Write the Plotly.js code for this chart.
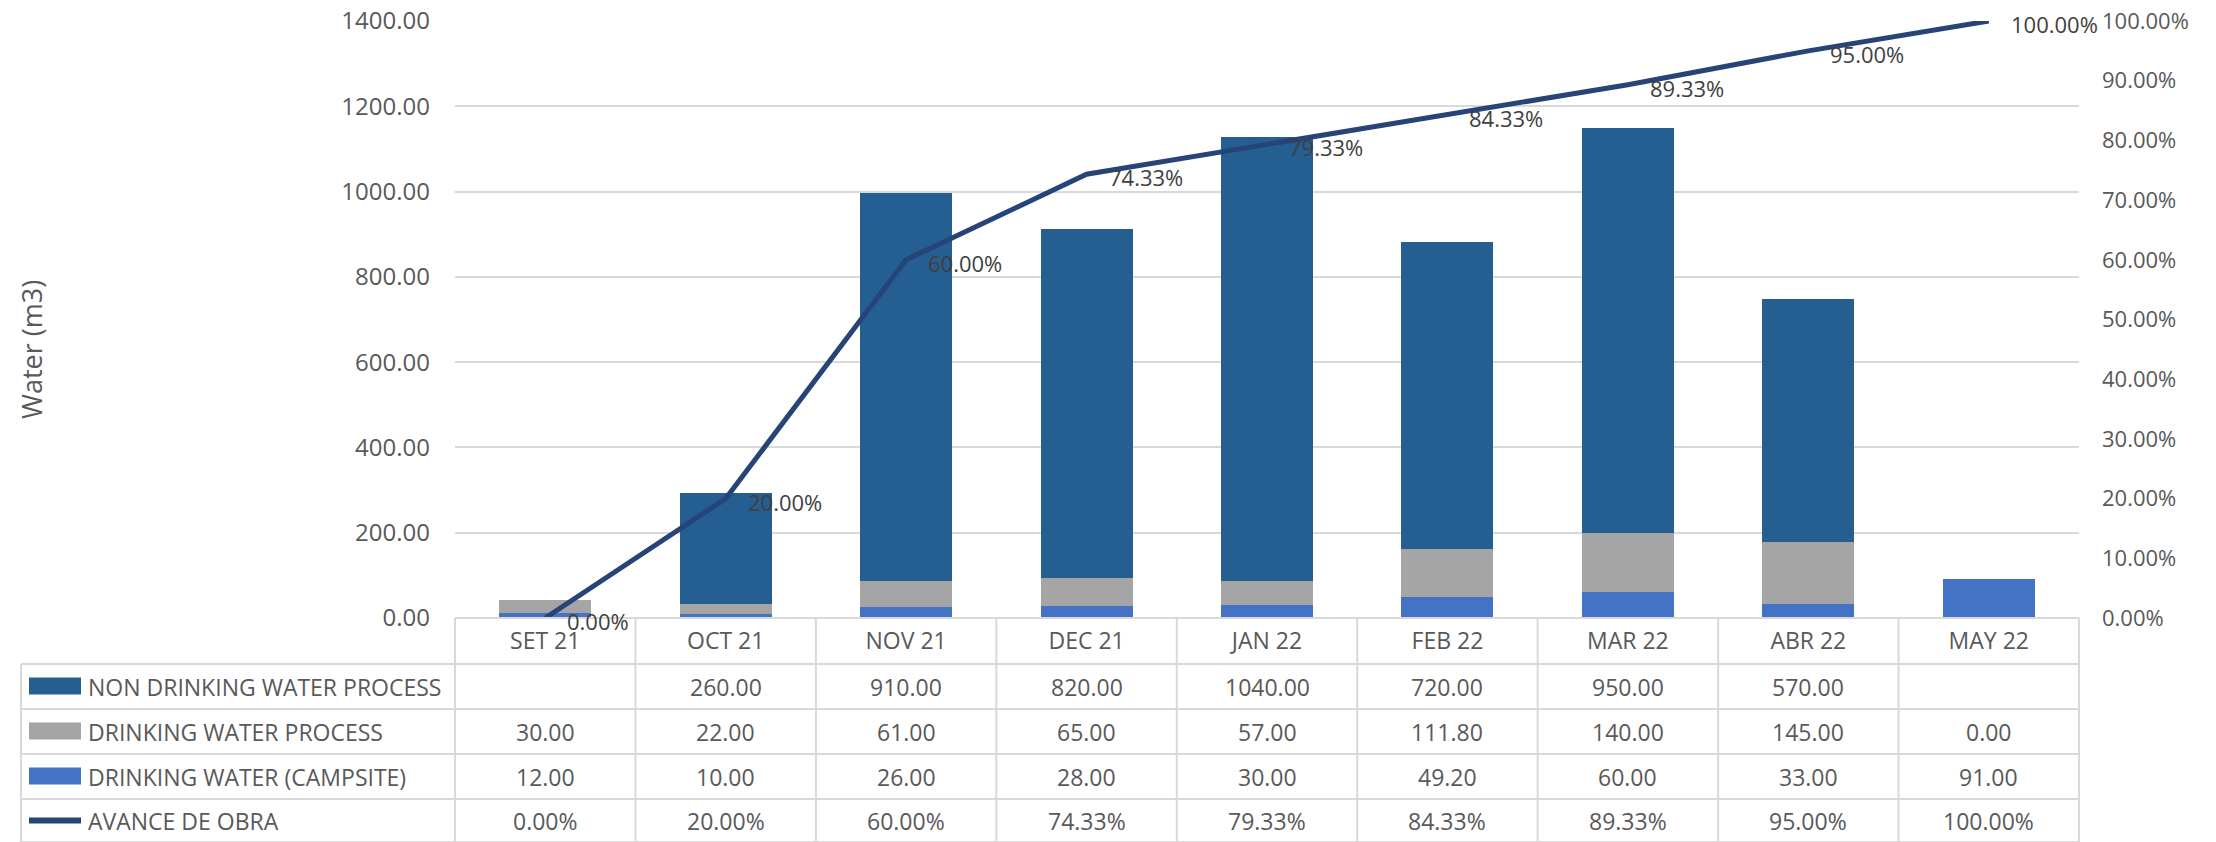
<!DOCTYPE html>
<html>
<head>
<meta charset="utf-8">
<script src="https://cdn.plot.ly/plotly-3.0.1.min.js"></script>
<style>html,body{margin:0;padding:0;background:#fff;}</style>
</head>
<body>
<div id="chart" style="width:2216px;height:842px;"></div>
<script>
// ---- data ----
const categories = ['SET 21','OCT 21','NOV 21','DEC 21','JAN 22','FEB 22','MAR 22','ABR 22','MAY 22'];
const nonDrinking = [null, 260, 910, 820, 1040, 720, 950, 570, null];
const drinkingProcess = [30, 22, 61, 65, 57, 111.8, 140, 145, 0];
const campsite = [12, 10, 26, 28, 30, 49.2, 60, 33, 91];
const avance = [0, 0.20, 0.60, 0.7433, 0.7933, 0.8433, 0.8933, 0.95, 1.00];
const seriesNames = ['NON DRINKING WATER PROCESS','DRINKING WATER PROCESS','DRINKING WATER (CAMPSITE)','AVANCE DE OBRA'];

// ---- style ----
const W = 2216, H = 842;
const M = {l:455, r:137, t:21, b:224};
const plotW = W - M.l - M.r, plotH = H - M.t - M.b;
const C_DARK = '#255E91', C_GREY = '#A5A5A5', C_BLUE = '#4472C4', C_LINE = '#264478';
const TXT = '#595959', GRID = '#D9D9D9';
const FONT = '"Open Sans", Roboto, sans-serif';
const FS = 23, FS_TICK = 24;

const xp = px => (px - M.l) / plotW;
const yp = py => (M.t + plotH - py) / plotH;

const traces = [
  {type:'bar', name:seriesNames[2], x:categories, y:campsite, marker:{color:C_BLUE}, yaxis:'y', hoverinfo:'skip'},
  {type:'bar', name:seriesNames[1], x:categories, y:drinkingProcess, marker:{color:C_GREY}, yaxis:'y', hoverinfo:'skip'},
  {type:'bar', name:seriesNames[0], x:categories, y:nonDrinking, marker:{color:C_DARK}, yaxis:'y', hoverinfo:'skip'},
  {type:'scatter', mode:'lines', name:seriesNames[3], x:categories, y:avance, yaxis:'y2',
   line:{color:C_LINE, width:5}, hoverinfo:'skip'}
];

const annotations = [];
const shapes = [];

// line data labels
avance.forEach((v, i) => {
  annotations.push({xref:'x', yref:'y2', x:categories[i], y:v, text:(v*100).toFixed(2)+'%',
    showarrow:false, xanchor:'left', yanchor:'middle', xshift:20, yshift:-3,
    font:{family:FONT, size:22, color:'#404040'}});
});

// y title
annotations.push({xref:'paper', yref:'paper', x:xp(31), y:yp(350), text:'Water (m3)', textangle:-90,
  showarrow:false, xanchor:'center', yanchor:'middle', font:{family:FONT, size:27, color:TXT}});

// data table
const rowEdges = [618, 664, 709, 754, 799, 842];
const tableLeft = 21, tableRight = M.l + plotW;
const n = categories.length;
const colW = plotW / n;
const rows = [
  nonDrinking.map(v => v == null ? '' : v.toFixed(2)),
  drinkingProcess.map(v => v == null ? '' : v.toFixed(2)),
  campsite.map(v => v == null ? '' : v.toFixed(2)),
  avance.map(v => (v*100).toFixed(2) + '%')
];
const swatchColors = [C_DARK, C_GREY, C_BLUE, C_LINE];
const line = {color:GRID, width:2};

// horizontal borders
shapes.push({type:'line', xref:'paper', yref:'paper', x0:xp(M.l), x1:xp(tableRight), y0:yp(618), y1:yp(618), line});
for (let r = 1; r < rowEdges.length; r++) {
  shapes.push({type:'line', xref:'paper', yref:'paper', x0:xp(tableLeft), x1:xp(tableRight), y0:yp(rowEdges[r]), y1:yp(rowEdges[r]), line});
}
// vertical borders
shapes.push({type:'line', xref:'paper', yref:'paper', x0:xp(tableLeft), x1:xp(tableLeft), y0:yp(664), y1:yp(842), line});
for (let k = 0; k <= n; k++) {
  const x = M.l + k * colW;
  shapes.push({type:'line', xref:'paper', yref:'paper', x0:xp(x), x1:xp(x), y0:yp(618), y1:yp(842), line});
}
// rows
rows.forEach((vals, r) => {
  const cy = (rowEdges[r+1] + rowEdges[r+2]) / 2;
  if (r < 3) {
    shapes.push({type:'rect', xref:'paper', yref:'paper', x0:xp(29), x1:xp(81), y0:yp(cy-9), y1:yp(cy+8),
      fillcolor:swatchColors[r], line:{width:0}});
  } else {
    shapes.push({type:'line', xref:'paper', yref:'paper', x0:xp(29), x1:xp(81), y0:yp(cy), y1:yp(cy),
      line:{color:swatchColors[r], width:6}});
  }
  annotations.push({xref:'paper', yref:'paper', x:xp(86), y:yp(cy), text:seriesNames[r],
    showarrow:false, xanchor:'left', yanchor:'middle', font:{family:FONT, size:FS, color:TXT}});
  vals.forEach((t, i) => {
    if (t === '') return;
    annotations.push({xref:'paper', yref:'paper', x:(i+0.5)/n, y:yp(cy), text:t,
      showarrow:false, xanchor:'center', yanchor:'middle', font:{family:FONT, size:FS, color:TXT}});
  });
});

const layout = {
  width:W, height:H,
  margin:{l:M.l, r:M.r, t:M.t, b:M.b, pad:0},
  paper_bgcolor:'#fff', plot_bgcolor:'#fff',
  showlegend:false,
  barmode:'stack', bargap:0.49,
  font:{family:FONT, size:FS, color:TXT},
  xaxis:{type:'category', range:[-0.5, n-0.5], showgrid:false, zeroline:false, showline:false,
    ticks:'', ticklabelstandoff:7, tickfont:{family:FONT, size:FS, color:TXT}, fixedrange:true},
  yaxis:{range:[0,1400], dtick:200, tickformat:'.2f', showgrid:true, gridcolor:GRID, gridwidth:2,
    zeroline:false, showline:false, ticks:'', ticklabelstandoff:24,
    tickfont:{family:FONT, size:FS_TICK, color:TXT}, fixedrange:true},
  yaxis2:{overlaying:'y', side:'right', range:[0,1], dtick:0.1, tickformat:'.2%', showgrid:false,
    zeroline:false, showline:false, ticks:'', ticklabelstandoff:22,
    tickfont:{family:FONT, size:22, color:TXT}, fixedrange:true},
  shapes, annotations
};

Plotly.newPlot('chart', traces, layout, {displayModeBar:false, staticPlot:true});
</script>
</body>
</html>
